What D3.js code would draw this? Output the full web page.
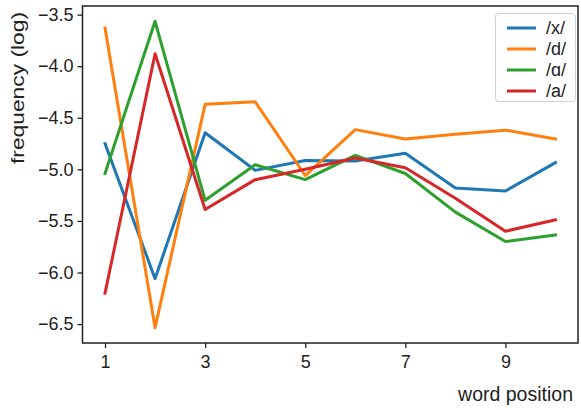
<!DOCTYPE html>
<html>
<head>
<meta charset="utf-8">
<script src="https://cdn.jsdelivr.net/npm/d3@7"></script>
<style>
  html, body { margin: 0; padding: 0; background: #fff; }
  svg { display: block; font-family: "Liberation Sans", Arial, sans-serif; }
</style>
</head>
<body>
<svg id="chart" width="581" height="410"></svg>
<script>
const positions = [1, 2, 3, 4, 5, 6, 7, 8, 9, 10];
const seriesNames = ["/x/", "/d/", "/ɑ/", "/a/"];
const seriesColors = ["#1f77b4", "#ff7f0e", "#2ca02c", "#d62728"];
const valuesX = [-4.75, -6.06, -4.645, -5.01, -4.915, -4.92, -4.845, -5.18, -5.21, -4.935];
const valuesD = [-3.63, -6.535, -4.37, -4.345, -5.06, -4.615, -4.705, -4.66, -4.62, -4.705];
const valuesAlpha = [-5.04, -3.565, -5.30, -4.955, -5.10, -4.865, -5.04, -5.415, -5.70, -5.635];
const valuesA = [-6.20, -3.88, -5.39, -5.10, -5.00, -4.89, -4.985, -5.28, -5.60, -5.49];
const xTicks = [1, 3, 5, 7, 9];
const yTicks = [-3.5, -4.0, -4.5, -5.0, -5.5, -6.0, -6.5];
const xLabel = "word position";
const yLabel = "frequency (log)";

const series = [valuesX, valuesD, valuesAlpha, valuesA].map((v, i) => ({
  name: seriesNames[i], color: seriesColors[i], values: v
}));

const svg = d3.select("#chart");
const plot = { left: 82.5, right: 578, top: 6, bottom: 343 };

const xMin = d3.min(positions), xMax = d3.max(positions);
const xPad = (xMax - xMin) * 0.05;
const x = d3.scaleLinear().domain([xMin - xPad, xMax + xPad]).range([plot.left, plot.right]);

const allVals = series.flatMap(s => s.values);
const yMin = d3.min(allVals), yMax = d3.max(allVals);
const yPad = (yMax - yMin) * 0.05;
const y = d3.scaleLinear().domain([yMin - yPad, yMax + yPad]).range([plot.bottom, plot.top]);

const fontSize = 18;

// Lines
const line = d3.line().x((d, i) => x(positions[i])).y(d => y(d));
svg.append("g").selectAll("path").data(series).join("path")
  .attr("d", d => line(d.values))
  .attr("fill", "none")
  .attr("stroke", d => d.color)
  .attr("stroke-width", 3)
  .attr("stroke-linejoin", "round")
  .attr("stroke-linecap", "square");

// Axes
const fmt = d3.format(".1f");
const xAxis = d3.axisBottom(x).tickValues(xTicks).tickSize(5).tickPadding(6).tickFormat(d3.format("d"));
const yAxis = d3.axisLeft(y).tickValues(yTicks).tickSize(5).tickPadding(4).tickFormat(d => fmt(d));

const gx = svg.append("g").attr("transform", `translate(0,${plot.bottom})`).call(xAxis);
const gy = svg.append("g").attr("transform", `translate(${plot.left},0)`).call(yAxis);
[gx, gy].forEach(g => {
  g.select(".domain").remove();
  g.selectAll(".tick line").attr("stroke", "#222").attr("stroke-width", 1.3);
  g.selectAll(".tick text").attr("fill", "#222").style("font-size", fontSize + "px")
    .style("font-family", "'Liberation Sans', Arial, sans-serif");
});
gx.selectAll(".tick text").attr("dy", "0.75em");

// Frame
svg.append("rect")
  .attr("x", plot.left).attr("y", plot.top)
  .attr("width", plot.right - plot.left).attr("height", plot.bottom - plot.top)
  .attr("fill", "none").attr("stroke", "#222").attr("stroke-width", 1.5);

// Axis labels
svg.append("text")
  .attr("x", plot.right - 5).attr("y", 401)
  .attr("text-anchor", "end")
  .attr("fill", "#222")
  .style("font-size", "19.5px")
  .text(xLabel);

svg.append("text")
  .attr("transform", `translate(24,${plot.top + 6}) rotate(-90)`)
  .attr("text-anchor", "end")
  .attr("fill", "#222")
  .attr("textLength", 152)
  .attr("lengthAdjust", "spacingAndGlyphs")
  .style("font-size", "19px")
  .text(yLabel);

// Legend
const leg = svg.append("g");
leg.append("rect")
  .attr("x", 495.5).attr("y", 13.5).attr("width", 80).attr("height", 88)
  .attr("rx", 3).attr("ry", 3)
  .attr("fill", "#fff").attr("fill-opacity", 0.8)
  .attr("stroke", "#d0d0d0").attr("stroke-width", 1);
const rows = leg.selectAll("g.row").data(series).join("g")
  .attr("class", "row")
  .attr("transform", (d, i) => `translate(0,${28 + i * 21})`);
rows.append("line")
  .attr("x1", 507).attr("x2", 536).attr("y1", 0).attr("y2", 0)
  .attr("stroke", d => d.color).attr("stroke-width", 3);
rows.append("text")
  .attr("x", 546).attr("y", 0).attr("dy", "0.35em")
  .attr("fill", "#222")
  .style("font-size", fontSize + "px")
  .text(d => d.name);
</script>
</body>
</html>
